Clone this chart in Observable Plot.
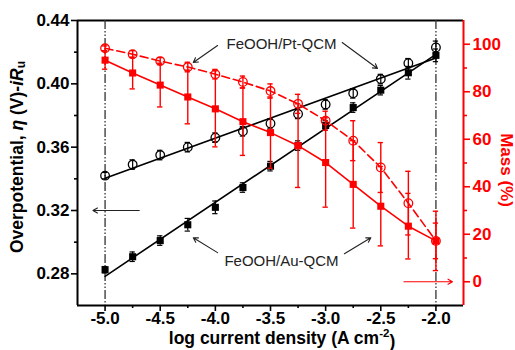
<!DOCTYPE html>
<html><head><meta charset="utf-8">
<script src="https://cdn.jsdelivr.net/npm/d3@7"></script>
<script src="https://cdn.jsdelivr.net/npm/@observablehq/plot@0.6"></script>
<style>html,body{margin:0;padding:0;background:#fff}</style>
</head><body><div id="chart"></div>
<script>
// ---- data ----
const logJ      = [-5.0, -4.75, -4.5, -4.25, -4.0, -3.75, -3.5, -3.25, -3.0, -2.75, -2.5, -2.25, -2.0];
const etaPt     = [0.342, 0.349, 0.355, 0.360, 0.366, 0.370, 0.375, 0.381, 0.387, 0.394, 0.403, 0.413, 0.423];
const etaPtErr  = [0.002, 0.003, 0.003, 0.003, 0.003, 0.003, 0.003, 0.003, 0.003, 0.003, 0.003, 0.003, 0.004];
const etaAu     = [0.2826, 0.2908, 0.301, 0.311, 0.322, 0.3345, 0.348, 0.361, 0.3737, 0.385, 0.396, 0.407, 0.418];
const etaAuErr  = [0.002, 0.003, 0.003, 0.004, 0.004, 0.003, 0.003, 0.003, 0.003, 0.003, 0.003, 0.004, 0.004];
const massPt    = [98.3, 95.8, 92.9, 90.4, 87.4, 84.1, 80.3, 74.9, 67.8, 59.4, 48.1, 33.1, 17.2];
const massPtErr = [1, 1.5, 1.5, 2, 2, 2.5, 3, 4, 4, 8.4, 10.5, 13.4, 7.5];
const massAu    = [93.3, 87.9, 82.8, 77.8, 72.8, 67.4, 62.8, 57.3, 50.2, 41.0, 31.8, 23.4, 17.2];
const massAuErr = [3.8, 6.7, 9.2, 11.3, 16, 14.2, 15, 17.6, 18.8, 18.4, 16.7, 13.8, 12.5];

const xTicks    = [-5.0, -4.5, -4.0, -3.5, -3.0, -2.5, -2.0];
const xMinor    = [-4.75, -4.25, -3.75, -3.25, -2.75, -2.25];
const yTicks    = [0.28, 0.32, 0.36, 0.40, 0.44];
const yMinor    = [0.30, 0.34, 0.38, 0.42];
const massTicks = [0, 20, 40, 60, 80, 100];
const massMinor = [10, 30, 50, 70, 90];
const guideX    = [-5.0, -2.0];

const labelPt = "FeOOH/Pt-QCM";
const labelAu = "FeOOH/Au-QCM";
// annotation anchors (data units)
const notes = [
  {text: labelPt, x: -3.40, y: 0.4248},
  {text: labelAu, x: -3.40, y: 0.2883}
];
const arrows = [
  {x1: -3.98, y1: 0.4242, x2: -4.20, y2: 0.4135, c: "#222"},
  {x1: -2.85, y1: 0.4261, x2: -2.53, y2: 0.4097, c: "#222"},
  {x1: -3.98, y1: 0.2934, x2: -4.20, y2: 0.3028, c: "#222"},
  {x1: -2.83, y1: 0.2927, x2: -2.59, y2: 0.3028, c: "#222"},
  {x1: -4.69, y1: 0.32, x2: -5.11, y2: 0.32, c: "#222"}
];
const massArrow = [{x1: -2.29, m: 0, x2: -1.85}];

// ---- scales ----
const xDom = [-5.25, -1.75];
const yDom = [0.26, 0.44];
const mDom = [-10, 110];
const toY = m => yDom[0] + (m - mDom[0]) / (mDom[1] - mDom[0]) * (yDom[1] - yDom[0]);
const fromY = y => mDom[0] + (y - yDom[0]) / (yDom[1] - yDom[0]) * (mDom[1] - mDom[0]);

const rows = logJ.map((x, i) => ({
  x, pt: etaPt[i], ptE: etaPtErr[i], au: etaAu[i], auE: etaAuErr[i],
  mPt: massPt[i], mPtE: massPtErr[i], mAu: massAu[i], mAuE: massAuErr[i]
}));

const RED = "#ff0000";
const cap = 0.024;
function errBars(lo, hi, color, w) {
  return [
    Plot.ruleX(rows, {x: "x", y1: lo, y2: hi, stroke: color, strokeWidth: w}),
    Plot.ruleY(rows, {x1: d => d.x - cap, x2: d => d.x + cap, y: lo, stroke: color, strokeWidth: w}),
    Plot.ruleY(rows, {x1: d => d.x - cap, x2: d => d.x + cap, y: hi, stroke: color, strokeWidth: w})
  ];
}

const svg = Plot.plot({
  width: 515, height: 350,
  marginLeft: 77, marginRight: 52, marginTop: 20, marginBottom: 45,
  style: {fontFamily: "'Liberation Sans', Arial, sans-serif", fontSize: "17px", fontWeight: "bold", background: "#fff", overflow: "visible"},
  x: {domain: xDom, label: null},
  y: {domain: yDom, label: null},
  marks: [
    // axes
    Plot.axisX(xTicks, {anchor: "bottom", tickSize: 6, tickPadding: 0, strokeWidth: 1.6, tickFormat: d => d.toFixed(1), label: null}),
    Plot.axisX(xMinor, {anchor: "bottom", tickSize: 3, strokeWidth: 1.6, tickFormat: () => "", label: null}),
    Plot.axisY(yTicks, {anchor: "left", tickSize: 6, tickPadding: 2, strokeWidth: 1.6, tickFormat: d => d.toFixed(2), label: null}),
    Plot.axisY(yMinor, {anchor: "left", tickSize: 3, strokeWidth: 1.6, tickFormat: () => "", label: null}),
    Plot.axisY(massTicks.map(toY), {anchor: "right", tickSize: 6, tickPadding: 3, strokeWidth: 1.6, color: RED, tickFormat: d => String(Math.round(fromY(d))), label: null}),
    Plot.axisY(massMinor.map(toY), {anchor: "right", tickSize: 3, strokeWidth: 1.6, color: RED, tickFormat: () => "", label: null}),
    // frame
    Plot.ruleY([yDom[1]], {stroke: "#000", strokeWidth: 2}),
    Plot.ruleY([yDom[0]], {stroke: "#000", strokeWidth: 2}),
    Plot.ruleX([xDom[0]], {stroke: "#000", strokeWidth: 2}),
    Plot.ruleX([xDom[1]], {stroke: RED, strokeWidth: 2}),
    // guides
    Plot.ruleX(guideX, {stroke: "#333", strokeWidth: 1.3, strokeDasharray: "9,2,1.5,2,1.5,2"}),
    // black overpotential series
    Plot.linearRegressionY(rows, {x: "x", y: "pt", stroke: "#000", strokeWidth: 1.6, ci: 0}),
    Plot.linearRegressionY(rows, {x: "x", y: "au", stroke: "#000", strokeWidth: 1.6, ci: 0}),
    ...errBars(d => d.pt - d.ptE, d => d.pt + d.ptE, "#000", 1.2),
    ...errBars(d => d.au - d.auE, d => d.au + d.auE, "#000", 1.2),
    Plot.dot(rows, {x: "x", y: "pt", r: 4.3, stroke: "#000", fill: "none", strokeWidth: 1.3}),
    Plot.dot(rows, {x: "x", y: "au", r: 4, symbol: "square", fill: "#000"}),
    // red mass series
    Plot.line(rows, {x: "x", y: d => toY(d.mAu), stroke: RED, strokeWidth: 1.6}),
    Plot.line(rows, {x: "x", y: d => toY(d.mPt), stroke: RED, strokeWidth: 1.6, strokeDasharray: "8,4"}),
    ...errBars(d => toY(d.mAu - d.mAuE), d => toY(d.mAu + d.mAuE), RED, 1.4),
    ...errBars(d => toY(d.mPt - d.mPtE), d => toY(d.mPt + d.mPtE), RED, 1.4),
    Plot.dot(rows, {x: "x", y: d => toY(d.mPt), r: 4.3, stroke: RED, fill: "none", strokeWidth: 1.3}),
    Plot.dot(rows, {x: "x", y: d => toY(d.mAu), r: 4, symbol: "square", fill: RED}),
    // annotations
    Plot.arrow(arrows, {x1: "x1", y1: "y1", x2: "x2", y2: "y2", stroke: "c", strokeWidth: 1.1, headLength: 7}),
    Plot.arrow(massArrow, {x1: "x1", y1: d => toY(d.m), x2: "x2", y2: d => toY(d.m), stroke: RED, strokeWidth: 1.1, headLength: 7}),
    Plot.text(notes, {x: "x", y: "y", text: "text", fontSize: 15, fontWeight: "normal", fill: "#222"})
  ]
});
document.getElementById("chart").appendChild(svg);

// axis titles
const s = d3.select(svg);
const yl = s.append("text")
  .attr("transform", "translate(18,157) rotate(-90)")
  .attr("text-anchor", "middle").attr("dominant-baseline", "middle")
  .attr("font-size", 17.5).attr("font-weight", "bold").attr("fill", "#000");
yl.append("tspan").text("Overpotential, ");
yl.append("tspan").attr("font-style", "italic").text("η");
yl.append("tspan").text(" (V)-");
yl.append("tspan").attr("font-style", "italic").text("iR");
yl.append("tspan").attr("font-size", 12).attr("dy", "0.35em").text("u");

s.append("text")
  .attr("transform", "translate(505,170) rotate(90)")
  .attr("text-anchor", "middle").attr("dominant-baseline", "middle")
  .attr("font-size", 17).attr("font-weight", "bold").attr("fill", RED)
  .text("Mass (%)");

const xl = s.append("text")
  .attr("x", 282).attr("y", 339)
  .attr("text-anchor", "middle").attr("dominant-baseline", "middle")
  .attr("font-size", 17.5).attr("font-weight", "bold").attr("fill", "#000");
xl.append("tspan").text("log current density (A cm");
xl.append("tspan").attr("font-size", 11.5).attr("dy", "-0.45em").text("-2");
xl.append("tspan").attr("dy", "0.45em").text(")");
</script>
</body></html>
